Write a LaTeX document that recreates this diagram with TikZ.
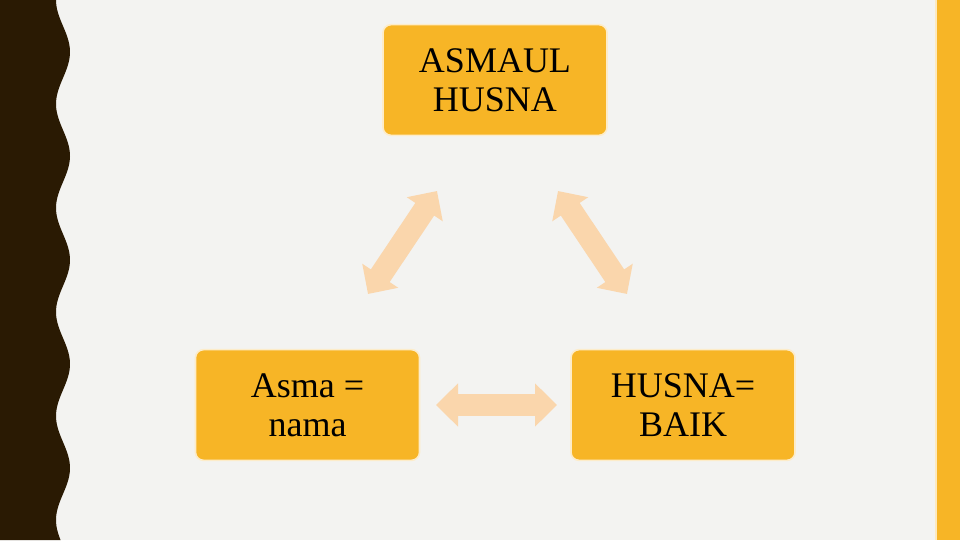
\documentclass[tikz,border=0pt]{standalone}
\usepackage{fontspec}
\setmainfont{Liberation Serif}
\usetikzlibrary{arrows.meta}
\definecolor{paper}{RGB}{243,243,241}
\definecolor{darkedge}{RGB}{42,26,3}
\definecolor{gold}{RGB}{247,181,38}
\definecolor{peach}{RGB}{250,214,172}
\tikzset{
  goldbox/.style={draw=white!75!gold,line width=1.2pt,fill=gold,rounded corners=6pt,
    minimum width=168pt,minimum height=83pt,align=center,text=black,
    font=\fontsize{27}{29.5}\selectfont},
  peacharrow/.style={draw=peach,line width=17pt,
    {Triangle[length=16.5pt,width=31.5pt]}-{Triangle[length=16.5pt,width=31.5pt]}}
}
\begin{document}
\begin{tikzpicture}[x=0.75pt,y=0.75pt]
\useasboundingbox (0,0) rectangle (960,540);
\fill[paper] (0,0) rectangle (960,540);
\fill[darkedge] (0,540)--plot[smooth,samples=160,domain=0:540] ({63-7*cos(3.4615*\x)},{540-\x})--(0,0)--cycle;
\fill[gold] (937,0) rectangle (960,540);
\fill[white!70!gold] (935,0) rectangle (937,540);
\node[goldbox] (asmaul) at (495,460) {ASMAUL\\HUSNA};
\node[goldbox] (asma) at (307.5,135) {Asma =\\nama};
\node[goldbox] (baik) at (683,135) {HUSNA=\\BAIK};
\coordinate (la) at (368,246); \coordinate (lb) at (437,349);
\coordinate (ra) at (558,349); \coordinate (rb) at (627,246);
\coordinate (ha) at (436,135); \coordinate (hb) at (557,135);
\draw[peacharrow] (la)--(lb);
\draw[peacharrow] (ra)--(rb);
\draw[peacharrow] (ha)--(hb);
\end{tikzpicture}
\end{document}
